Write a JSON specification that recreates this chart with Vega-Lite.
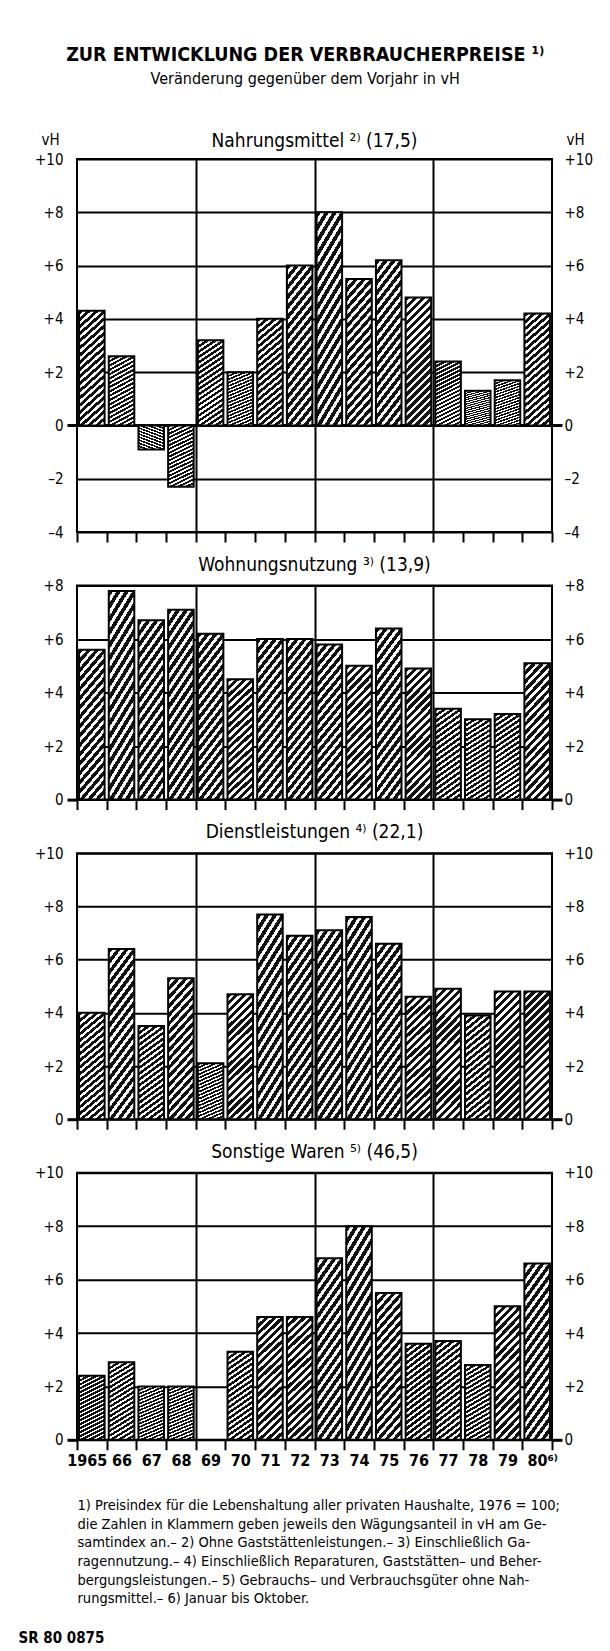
{
  "$schema": "https://vega.github.io/schema/vega-lite/v6.json",
  "padding": {"left": 17, "top": 45, "right": 4, "bottom": 0},
  "background": "white",
  "title": {
    "text": "ZUR ENTWICKLUNG DER VERBRAUCHERPREISE ¹⁾",
    "subtitle": "Veränderung gegenüber dem Vorjahr in vH",
    "anchor": "middle",
    "font": "Liberation Sans Narrow, DejaVu Sans Condensed, Arial Narrow, sans-serif",
    "fontSize": 19.5,
    "fontWeight": "bold",
    "color": "black",
    "subtitleFont": "Liberation Sans Narrow, DejaVu Sans Condensed, Arial Narrow, sans-serif",
    "subtitleFontSize": 16,
    "subtitleColor": "black",
    "subtitlePadding": 5.5,
    "offset": 42.5
  },
  "datasets": {
    "nahrung": [
      {"year": "1965", "value": 4.3}, {"year": "1966", "value": 2.6}, {"year": "1967", "value": -0.9}, {"year": "1968", "value": -2.3},
      {"year": "1969", "value": 3.2}, {"year": "1970", "value": 2.0}, {"year": "1971", "value": 4.0}, {"year": "1972", "value": 6.0},
      {"year": "1973", "value": 8.0}, {"year": "1974", "value": 5.5}, {"year": "1975", "value": 6.2}, {"year": "1976", "value": 4.8},
      {"year": "1977", "value": 2.4}, {"year": "1978", "value": 1.3}, {"year": "1979", "value": 1.7}, {"year": "1980", "value": 4.2}
    ],
    "wohnung": [
      {"year": "1965", "value": 5.6}, {"year": "1966", "value": 7.8}, {"year": "1967", "value": 6.7}, {"year": "1968", "value": 7.1},
      {"year": "1969", "value": 6.2}, {"year": "1970", "value": 4.5}, {"year": "1971", "value": 6.0}, {"year": "1972", "value": 6.0},
      {"year": "1973", "value": 5.8}, {"year": "1974", "value": 5.0}, {"year": "1975", "value": 6.4}, {"year": "1976", "value": 4.9},
      {"year": "1977", "value": 3.4}, {"year": "1978", "value": 3.0}, {"year": "1979", "value": 3.2}, {"year": "1980", "value": 5.1}
    ],
    "dienst": [
      {"year": "1965", "value": 4.0}, {"year": "1966", "value": 6.4}, {"year": "1967", "value": 3.5}, {"year": "1968", "value": 5.3},
      {"year": "1969", "value": 2.1}, {"year": "1970", "value": 4.7}, {"year": "1971", "value": 7.7}, {"year": "1972", "value": 6.9},
      {"year": "1973", "value": 7.1}, {"year": "1974", "value": 7.6}, {"year": "1975", "value": 6.6}, {"year": "1976", "value": 4.6},
      {"year": "1977", "value": 4.9}, {"year": "1978", "value": 3.9}, {"year": "1979", "value": 4.8}, {"year": "1980", "value": 4.8}
    ],
    "sonst": [
      {"year": "1965", "value": 2.4}, {"year": "1966", "value": 2.9}, {"year": "1967", "value": 2.0}, {"year": "1968", "value": 2.0},
      {"year": "1970", "value": 3.3}, {"year": "1971", "value": 4.6}, {"year": "1972", "value": 4.6},
      {"year": "1973", "value": 6.8}, {"year": "1974", "value": 8.0}, {"year": "1975", "value": 5.5}, {"year": "1976", "value": 3.6},
      {"year": "1977", "value": 3.7}, {"year": "1978", "value": 2.8}, {"year": "1979", "value": 5.0}, {"year": "1980", "value": 6.6}
    ]
  },
  "spacing": 10.6,
  "vconcat": [
    {
      "title": {"text": "Nahrungsmittel ²⁾ (17,5)", "offset": -18.6},
      "width": 475,
      "height": 373,
      "data": {"name": "nahrung"},
      "encoding": {
        "x": {"field": "year", "type": "ordinal",
          "scale": {"domain": ["1965","1966","1967","1968","1969","1970","1971","1972","1973","1974","1975","1976","1977","1978","1979","1980"], "paddingInner": 0, "paddingOuter": 0},
          "axis": {"tickBand": "extent", "labels": false, "title": null, "domain": false, "tickSize": 10, "tickWidth": 2, "tickColor": "black",
            "grid": true, "gridColor": "black", "gridWidth": 2,
            "gridOpacity": {"condition": {"test": "datum.value == '1968' || datum.value == '1972' || datum.value == '1976'", "value": 1}, "value": 0}}}
      },
      "layer": [
        {
          "mark": {"type": "bar", "width": {"band": 0.86}, "stroke": "black", "strokeWidth": 2,
            "fill": {"gradient": "linear", "x1": 0, "y1": 0, "x2": 0.24, "y2": 1.2, "stops": [
              {"offset": 0, "color": "#111"}, {"offset": 0.0275, "color": "#111"}, {"offset": 0.0275, "color": "#fff"}, {"offset": 0.05, "color": "#fff"},
              {"offset": 0.05, "color": "#111"}, {"offset": 0.0775, "color": "#111"}, {"offset": 0.0775, "color": "#fff"}, {"offset": 0.1, "color": "#fff"},
              {"offset": 0.1, "color": "#111"}, {"offset": 0.1275, "color": "#111"}, {"offset": 0.1275, "color": "#fff"}, {"offset": 0.15, "color": "#fff"},
              {"offset": 0.15, "color": "#111"}, {"offset": 0.1775, "color": "#111"}, {"offset": 0.1775, "color": "#fff"}, {"offset": 0.2, "color": "#fff"},
              {"offset": 0.2, "color": "#111"}, {"offset": 0.2275, "color": "#111"}, {"offset": 0.2275, "color": "#fff"}, {"offset": 0.25, "color": "#fff"},
              {"offset": 0.25, "color": "#111"}, {"offset": 0.2775, "color": "#111"}, {"offset": 0.2775, "color": "#fff"}, {"offset": 0.3, "color": "#fff"},
              {"offset": 0.3, "color": "#111"}, {"offset": 0.3275, "color": "#111"}, {"offset": 0.3275, "color": "#fff"}, {"offset": 0.35, "color": "#fff"},
              {"offset": 0.35, "color": "#111"}, {"offset": 0.3775, "color": "#111"}, {"offset": 0.3775, "color": "#fff"}, {"offset": 0.4, "color": "#fff"},
              {"offset": 0.4, "color": "#111"}, {"offset": 0.4275, "color": "#111"}, {"offset": 0.4275, "color": "#fff"}, {"offset": 0.45, "color": "#fff"},
              {"offset": 0.45, "color": "#111"}, {"offset": 0.4775, "color": "#111"}, {"offset": 0.4775, "color": "#fff"}, {"offset": 0.5, "color": "#fff"},
              {"offset": 0.5, "color": "#111"}, {"offset": 0.5275, "color": "#111"}, {"offset": 0.5275, "color": "#fff"}, {"offset": 0.55, "color": "#fff"},
              {"offset": 0.55, "color": "#111"}, {"offset": 0.5775, "color": "#111"}, {"offset": 0.5775, "color": "#fff"}, {"offset": 0.6, "color": "#fff"},
              {"offset": 0.6, "color": "#111"}, {"offset": 0.6275, "color": "#111"}, {"offset": 0.6275, "color": "#fff"}, {"offset": 0.65, "color": "#fff"},
              {"offset": 0.65, "color": "#111"}, {"offset": 0.6775, "color": "#111"}, {"offset": 0.6775, "color": "#fff"}, {"offset": 0.7, "color": "#fff"},
              {"offset": 0.7, "color": "#111"}, {"offset": 0.7275, "color": "#111"}, {"offset": 0.7275, "color": "#fff"}, {"offset": 0.75, "color": "#fff"},
              {"offset": 0.75, "color": "#111"}, {"offset": 0.7775, "color": "#111"}, {"offset": 0.7775, "color": "#fff"}, {"offset": 0.8, "color": "#fff"},
              {"offset": 0.8, "color": "#111"}, {"offset": 0.8275, "color": "#111"}, {"offset": 0.8275, "color": "#fff"}, {"offset": 0.85, "color": "#fff"},
              {"offset": 0.85, "color": "#111"}, {"offset": 0.8775, "color": "#111"}, {"offset": 0.8775, "color": "#fff"}, {"offset": 0.9, "color": "#fff"},
              {"offset": 0.9, "color": "#111"}, {"offset": 0.9275, "color": "#111"}, {"offset": 0.9275, "color": "#fff"}, {"offset": 0.95, "color": "#fff"},
              {"offset": 0.95, "color": "#111"}, {"offset": 0.9775, "color": "#111"}, {"offset": 0.9775, "color": "#fff"}, {"offset": 1, "color": "#fff"}
            ]}},
          "encoding": {
            "y": {"field": "value", "type": "quantitative", "scale": {"domain": [-4, 10], "nice": false},
              "axis": {"orient": "left", "values": [-4, -2, 0, 2, 4, 6, 8, 10], "grid": true, "gridColor": "black",
                "gridWidth": {"condition": {"test": "datum.value == 0", "value": 3}, "value": 2},
                "tickSize": 10, "tickWidth": 3, "tickColor": "black",
                "tickOpacity": {"condition": {"test": "datum.value == 0", "value": 1}, "value": 0},
                "labelPadding": 4, "labelFontSize": 15,
                "labelExpr": "datum.value > 0 ? '+' + datum.value : (datum.value < 0 ? '–' + (-datum.value) : '0')",
                "title": "vH", "titleAngle": 0, "titleX": -36, "titleY": -15, "titleAlign": "left", "titleBaseline": "alphabetic",
                "titleFontSize": 15, "titleFontWeight": "normal"}}
          }
        },
        {
          "mark": {"type": "bar", "width": {"band": 0.86}, "opacity": 0},
          "encoding": {
            "y": {"field": "value", "type": "quantitative",
              "axis": {"orient": "right", "values": [-4, -2, 0, 2, 4, 6, 8, 10], "grid": false,
                "tickSize": 10, "tickWidth": 3, "tickColor": "black",
                "tickOpacity": {"condition": {"test": "datum.value == 0", "value": 1}, "value": 0},
                "labelPadding": 2, "labelFontSize": 15,
                "labelExpr": "datum.value > 0 ? '+' + datum.value : (datum.value < 0 ? '–' + (-datum.value) : '0')",
                "title": "vH", "titleAngle": 0, "titleX": 14, "titleY": -15, "titleAlign": "left", "titleBaseline": "alphabetic",
                "titleFontSize": 15, "titleFontWeight": "normal"}}
          }
        }
      ],
      "resolve": {"axis": {"y": "independent"}}
    },
    {
      "title": {"text": "Wohnungsnutzung ³⁾ (13,9)"},
      "width": 475,
      "height": 214,
      "data": {"name": "wohnung"},
      "encoding": {
        "x": {"field": "year", "type": "ordinal",
          "scale": {"domain": ["1965","1966","1967","1968","1969","1970","1971","1972","1973","1974","1975","1976","1977","1978","1979","1980"], "paddingInner": 0, "paddingOuter": 0},
          "axis": {"tickBand": "extent", "labels": false, "title": null, "domain": false, "tickSize": 10, "tickWidth": 2, "tickColor": "black",
            "grid": true, "gridColor": "black", "gridWidth": 2,
            "gridOpacity": {"condition": {"test": "datum.value == '1968' || datum.value == '1972' || datum.value == '1976'", "value": 1}, "value": 0}}}
      },
      "layer": [
        {
          "mark": {"type": "bar", "width": {"band": 0.86}, "stroke": "black", "strokeWidth": 2,
            "fill": {"gradient": "linear", "x1": 0, "y1": 0, "x2": 0.24, "y2": 1.2, "stops": [
              {"offset": 0, "color": "#111"}, {"offset": 0.0275, "color": "#111"}, {"offset": 0.0275, "color": "#fff"}, {"offset": 0.05, "color": "#fff"},
              {"offset": 0.05, "color": "#111"}, {"offset": 0.0775, "color": "#111"}, {"offset": 0.0775, "color": "#fff"}, {"offset": 0.1, "color": "#fff"},
              {"offset": 0.1, "color": "#111"}, {"offset": 0.1275, "color": "#111"}, {"offset": 0.1275, "color": "#fff"}, {"offset": 0.15, "color": "#fff"},
              {"offset": 0.15, "color": "#111"}, {"offset": 0.1775, "color": "#111"}, {"offset": 0.1775, "color": "#fff"}, {"offset": 0.2, "color": "#fff"},
              {"offset": 0.2, "color": "#111"}, {"offset": 0.2275, "color": "#111"}, {"offset": 0.2275, "color": "#fff"}, {"offset": 0.25, "color": "#fff"},
              {"offset": 0.25, "color": "#111"}, {"offset": 0.2775, "color": "#111"}, {"offset": 0.2775, "color": "#fff"}, {"offset": 0.3, "color": "#fff"},
              {"offset": 0.3, "color": "#111"}, {"offset": 0.3275, "color": "#111"}, {"offset": 0.3275, "color": "#fff"}, {"offset": 0.35, "color": "#fff"},
              {"offset": 0.35, "color": "#111"}, {"offset": 0.3775, "color": "#111"}, {"offset": 0.3775, "color": "#fff"}, {"offset": 0.4, "color": "#fff"},
              {"offset": 0.4, "color": "#111"}, {"offset": 0.4275, "color": "#111"}, {"offset": 0.4275, "color": "#fff"}, {"offset": 0.45, "color": "#fff"},
              {"offset": 0.45, "color": "#111"}, {"offset": 0.4775, "color": "#111"}, {"offset": 0.4775, "color": "#fff"}, {"offset": 0.5, "color": "#fff"},
              {"offset": 0.5, "color": "#111"}, {"offset": 0.5275, "color": "#111"}, {"offset": 0.5275, "color": "#fff"}, {"offset": 0.55, "color": "#fff"},
              {"offset": 0.55, "color": "#111"}, {"offset": 0.5775, "color": "#111"}, {"offset": 0.5775, "color": "#fff"}, {"offset": 0.6, "color": "#fff"},
              {"offset": 0.6, "color": "#111"}, {"offset": 0.6275, "color": "#111"}, {"offset": 0.6275, "color": "#fff"}, {"offset": 0.65, "color": "#fff"},
              {"offset": 0.65, "color": "#111"}, {"offset": 0.6775, "color": "#111"}, {"offset": 0.6775, "color": "#fff"}, {"offset": 0.7, "color": "#fff"},
              {"offset": 0.7, "color": "#111"}, {"offset": 0.7275, "color": "#111"}, {"offset": 0.7275, "color": "#fff"}, {"offset": 0.75, "color": "#fff"},
              {"offset": 0.75, "color": "#111"}, {"offset": 0.7775, "color": "#111"}, {"offset": 0.7775, "color": "#fff"}, {"offset": 0.8, "color": "#fff"},
              {"offset": 0.8, "color": "#111"}, {"offset": 0.8275, "color": "#111"}, {"offset": 0.8275, "color": "#fff"}, {"offset": 0.85, "color": "#fff"},
              {"offset": 0.85, "color": "#111"}, {"offset": 0.8775, "color": "#111"}, {"offset": 0.8775, "color": "#fff"}, {"offset": 0.9, "color": "#fff"},
              {"offset": 0.9, "color": "#111"}, {"offset": 0.9275, "color": "#111"}, {"offset": 0.9275, "color": "#fff"}, {"offset": 0.95, "color": "#fff"},
              {"offset": 0.95, "color": "#111"}, {"offset": 0.9775, "color": "#111"}, {"offset": 0.9775, "color": "#fff"}, {"offset": 1, "color": "#fff"}
            ]}},
          "encoding": {
            "y": {"field": "value", "type": "quantitative", "scale": {"domain": [0, 8], "nice": false},
              "axis": {"orient": "left", "values": [0, 2, 4, 6, 8], "grid": true, "gridColor": "black", "gridWidth": 2,
                "tickSize": 10, "tickWidth": 3, "tickColor": "black",
                "tickOpacity": {"condition": {"test": "datum.value == 0", "value": 1}, "value": 0},
                "labelPadding": 4, "labelFontSize": 15,
                "labelExpr": "datum.value > 0 ? '+' + datum.value : (datum.value < 0 ? '–' + (-datum.value) : '0')",
                "title": null}}
          }
        },
        {
          "mark": {"type": "bar", "width": {"band": 0.86}, "opacity": 0},
          "encoding": {
            "y": {"field": "value", "type": "quantitative",
              "axis": {"orient": "right", "values": [0, 2, 4, 6, 8], "grid": false,
                "tickSize": 10, "tickWidth": 3, "tickColor": "black",
                "tickOpacity": {"condition": {"test": "datum.value == 0", "value": 1}, "value": 0},
                "labelPadding": 2, "labelFontSize": 15,
                "labelExpr": "datum.value > 0 ? '+' + datum.value : (datum.value < 0 ? '–' + (-datum.value) : '0')",
                "title": null}}
          }
        }
      ],
      "resolve": {"axis": {"y": "independent"}}
    },
    {
      "title": {"text": "Dienstleistungen ⁴⁾ (22,1)"},
      "width": 475,
      "height": 266,
      "data": {"name": "dienst"},
      "encoding": {
        "x": {"field": "year", "type": "ordinal",
          "scale": {"domain": ["1965","1966","1967","1968","1969","1970","1971","1972","1973","1974","1975","1976","1977","1978","1979","1980"], "paddingInner": 0, "paddingOuter": 0},
          "axis": {"tickBand": "extent", "labels": false, "title": null, "domain": false, "tickSize": 10, "tickWidth": 2, "tickColor": "black",
            "grid": true, "gridColor": "black", "gridWidth": 2,
            "gridOpacity": {"condition": {"test": "datum.value == '1968' || datum.value == '1972' || datum.value == '1976'", "value": 1}, "value": 0}}}
      },
      "layer": [
        {
          "mark": {"type": "bar", "width": {"band": 0.86}, "stroke": "black", "strokeWidth": 2,
            "fill": {"gradient": "linear", "x1": 0, "y1": 0, "x2": 0.24, "y2": 1.2, "stops": [
              {"offset": 0, "color": "#111"}, {"offset": 0.0275, "color": "#111"}, {"offset": 0.0275, "color": "#fff"}, {"offset": 0.05, "color": "#fff"},
              {"offset": 0.05, "color": "#111"}, {"offset": 0.0775, "color": "#111"}, {"offset": 0.0775, "color": "#fff"}, {"offset": 0.1, "color": "#fff"},
              {"offset": 0.1, "color": "#111"}, {"offset": 0.1275, "color": "#111"}, {"offset": 0.1275, "color": "#fff"}, {"offset": 0.15, "color": "#fff"},
              {"offset": 0.15, "color": "#111"}, {"offset": 0.1775, "color": "#111"}, {"offset": 0.1775, "color": "#fff"}, {"offset": 0.2, "color": "#fff"},
              {"offset": 0.2, "color": "#111"}, {"offset": 0.2275, "color": "#111"}, {"offset": 0.2275, "color": "#fff"}, {"offset": 0.25, "color": "#fff"},
              {"offset": 0.25, "color": "#111"}, {"offset": 0.2775, "color": "#111"}, {"offset": 0.2775, "color": "#fff"}, {"offset": 0.3, "color": "#fff"},
              {"offset": 0.3, "color": "#111"}, {"offset": 0.3275, "color": "#111"}, {"offset": 0.3275, "color": "#fff"}, {"offset": 0.35, "color": "#fff"},
              {"offset": 0.35, "color": "#111"}, {"offset": 0.3775, "color": "#111"}, {"offset": 0.3775, "color": "#fff"}, {"offset": 0.4, "color": "#fff"},
              {"offset": 0.4, "color": "#111"}, {"offset": 0.4275, "color": "#111"}, {"offset": 0.4275, "color": "#fff"}, {"offset": 0.45, "color": "#fff"},
              {"offset": 0.45, "color": "#111"}, {"offset": 0.4775, "color": "#111"}, {"offset": 0.4775, "color": "#fff"}, {"offset": 0.5, "color": "#fff"},
              {"offset": 0.5, "color": "#111"}, {"offset": 0.5275, "color": "#111"}, {"offset": 0.5275, "color": "#fff"}, {"offset": 0.55, "color": "#fff"},
              {"offset": 0.55, "color": "#111"}, {"offset": 0.5775, "color": "#111"}, {"offset": 0.5775, "color": "#fff"}, {"offset": 0.6, "color": "#fff"},
              {"offset": 0.6, "color": "#111"}, {"offset": 0.6275, "color": "#111"}, {"offset": 0.6275, "color": "#fff"}, {"offset": 0.65, "color": "#fff"},
              {"offset": 0.65, "color": "#111"}, {"offset": 0.6775, "color": "#111"}, {"offset": 0.6775, "color": "#fff"}, {"offset": 0.7, "color": "#fff"},
              {"offset": 0.7, "color": "#111"}, {"offset": 0.7275, "color": "#111"}, {"offset": 0.7275, "color": "#fff"}, {"offset": 0.75, "color": "#fff"},
              {"offset": 0.75, "color": "#111"}, {"offset": 0.7775, "color": "#111"}, {"offset": 0.7775, "color": "#fff"}, {"offset": 0.8, "color": "#fff"},
              {"offset": 0.8, "color": "#111"}, {"offset": 0.8275, "color": "#111"}, {"offset": 0.8275, "color": "#fff"}, {"offset": 0.85, "color": "#fff"},
              {"offset": 0.85, "color": "#111"}, {"offset": 0.8775, "color": "#111"}, {"offset": 0.8775, "color": "#fff"}, {"offset": 0.9, "color": "#fff"},
              {"offset": 0.9, "color": "#111"}, {"offset": 0.9275, "color": "#111"}, {"offset": 0.9275, "color": "#fff"}, {"offset": 0.95, "color": "#fff"},
              {"offset": 0.95, "color": "#111"}, {"offset": 0.9775, "color": "#111"}, {"offset": 0.9775, "color": "#fff"}, {"offset": 1, "color": "#fff"}
            ]}},
          "encoding": {
            "y": {"field": "value", "type": "quantitative", "scale": {"domain": [0, 10], "nice": false},
              "axis": {"orient": "left", "values": [0, 2, 4, 6, 8, 10], "grid": true, "gridColor": "black", "gridWidth": 2,
                "tickSize": 10, "tickWidth": 3, "tickColor": "black",
                "tickOpacity": {"condition": {"test": "datum.value == 0", "value": 1}, "value": 0},
                "labelPadding": 4, "labelFontSize": 15,
                "labelExpr": "datum.value > 0 ? '+' + datum.value : (datum.value < 0 ? '–' + (-datum.value) : '0')",
                "title": null}}
          }
        },
        {
          "mark": {"type": "bar", "width": {"band": 0.86}, "opacity": 0},
          "encoding": {
            "y": {"field": "value", "type": "quantitative",
              "axis": {"orient": "right", "values": [0, 2, 4, 6, 8, 10], "grid": false,
                "tickSize": 10, "tickWidth": 3, "tickColor": "black",
                "tickOpacity": {"condition": {"test": "datum.value == 0", "value": 1}, "value": 0},
                "labelPadding": 2, "labelFontSize": 15,
                "labelExpr": "datum.value > 0 ? '+' + datum.value : (datum.value < 0 ? '–' + (-datum.value) : '0')",
                "title": null}}
          }
        }
      ],
      "resolve": {"axis": {"y": "independent"}}
    },
    {
      "title": {"text": "Sonstige Waren ⁵⁾ (46,5)"},
      "width": 475,
      "height": 267,
      "data": {"name": "sonst"},
      "encoding": {
        "x": {"field": "year", "type": "ordinal",
          "scale": {"domain": ["1965","1966","1967","1968","1969","1970","1971","1972","1973","1974","1975","1976","1977","1978","1979","1980"], "paddingInner": 0, "paddingOuter": 0},
          "axis": {"tickBand": "extent", "labels": true, "labelAngle": 0, "labelOverlap": false, "labelFontSize": 16, "labelFontWeight": "bold", "labelPadding": 3,
            "labelOffset": {"condition": [{"test": "datum.value == '1965'", "value": -5}, {"test": "datum.value == '1980'", "value": 5}], "value": 0},
            "labelExpr": "datum.value == null ? '' : (datum.value == '1965' ? '1965' : (datum.value == '1980' ? '80⁶⁾' : substring(datum.value, 2)))",
            "domain": false, "tickSize": 10, "tickWidth": 2, "tickColor": "black",
            "grid": true, "gridColor": "black", "gridWidth": 2,
            "gridOpacity": {"condition": {"test": "datum.value == '1968' || datum.value == '1972' || datum.value == '1976'", "value": 1}, "value": 0},
            "title": [
              "1) Preisindex für die Lebenshaltung aller privaten Haushalte, 1976 = 100;",
              "die Zahlen in Klammern geben jeweils den Wägungsanteil in vH am Ge-",
              "samtindex an.– 2) Ohne Gaststättenleistungen.– 3) Einschließlich Ga-",
              "ragennutzung.– 4) Einschließlich Reparaturen, Gaststätten– und Beher-",
              "bergungsleistungen.– 5) Gebrauchs– und Verbrauchsgüter ohne Nah-",
              "rungsmittel.– 6) Januar bis Oktober."
            ],
            "titleAnchor": "start", "titleAlign": "left", "titleFontSize": 14.5, "titleFontWeight": "normal", "titleLineHeight": 18.6, "titlePadding": 30}}
      },
      "layer": [
        {
          "mark": {"type": "bar", "width": {"band": 0.86}, "stroke": "black", "strokeWidth": 2,
            "fill": {"gradient": "linear", "x1": 0, "y1": 0, "x2": 0.24, "y2": 1.2, "stops": [
              {"offset": 0, "color": "#111"}, {"offset": 0.0275, "color": "#111"}, {"offset": 0.0275, "color": "#fff"}, {"offset": 0.05, "color": "#fff"},
              {"offset": 0.05, "color": "#111"}, {"offset": 0.0775, "color": "#111"}, {"offset": 0.0775, "color": "#fff"}, {"offset": 0.1, "color": "#fff"},
              {"offset": 0.1, "color": "#111"}, {"offset": 0.1275, "color": "#111"}, {"offset": 0.1275, "color": "#fff"}, {"offset": 0.15, "color": "#fff"},
              {"offset": 0.15, "color": "#111"}, {"offset": 0.1775, "color": "#111"}, {"offset": 0.1775, "color": "#fff"}, {"offset": 0.2, "color": "#fff"},
              {"offset": 0.2, "color": "#111"}, {"offset": 0.2275, "color": "#111"}, {"offset": 0.2275, "color": "#fff"}, {"offset": 0.25, "color": "#fff"},
              {"offset": 0.25, "color": "#111"}, {"offset": 0.2775, "color": "#111"}, {"offset": 0.2775, "color": "#fff"}, {"offset": 0.3, "color": "#fff"},
              {"offset": 0.3, "color": "#111"}, {"offset": 0.3275, "color": "#111"}, {"offset": 0.3275, "color": "#fff"}, {"offset": 0.35, "color": "#fff"},
              {"offset": 0.35, "color": "#111"}, {"offset": 0.3775, "color": "#111"}, {"offset": 0.3775, "color": "#fff"}, {"offset": 0.4, "color": "#fff"},
              {"offset": 0.4, "color": "#111"}, {"offset": 0.4275, "color": "#111"}, {"offset": 0.4275, "color": "#fff"}, {"offset": 0.45, "color": "#fff"},
              {"offset": 0.45, "color": "#111"}, {"offset": 0.4775, "color": "#111"}, {"offset": 0.4775, "color": "#fff"}, {"offset": 0.5, "color": "#fff"},
              {"offset": 0.5, "color": "#111"}, {"offset": 0.5275, "color": "#111"}, {"offset": 0.5275, "color": "#fff"}, {"offset": 0.55, "color": "#fff"},
              {"offset": 0.55, "color": "#111"}, {"offset": 0.5775, "color": "#111"}, {"offset": 0.5775, "color": "#fff"}, {"offset": 0.6, "color": "#fff"},
              {"offset": 0.6, "color": "#111"}, {"offset": 0.6275, "color": "#111"}, {"offset": 0.6275, "color": "#fff"}, {"offset": 0.65, "color": "#fff"},
              {"offset": 0.65, "color": "#111"}, {"offset": 0.6775, "color": "#111"}, {"offset": 0.6775, "color": "#fff"}, {"offset": 0.7, "color": "#fff"},
              {"offset": 0.7, "color": "#111"}, {"offset": 0.7275, "color": "#111"}, {"offset": 0.7275, "color": "#fff"}, {"offset": 0.75, "color": "#fff"},
              {"offset": 0.75, "color": "#111"}, {"offset": 0.7775, "color": "#111"}, {"offset": 0.7775, "color": "#fff"}, {"offset": 0.8, "color": "#fff"},
              {"offset": 0.8, "color": "#111"}, {"offset": 0.8275, "color": "#111"}, {"offset": 0.8275, "color": "#fff"}, {"offset": 0.85, "color": "#fff"},
              {"offset": 0.85, "color": "#111"}, {"offset": 0.8775, "color": "#111"}, {"offset": 0.8775, "color": "#fff"}, {"offset": 0.9, "color": "#fff"},
              {"offset": 0.9, "color": "#111"}, {"offset": 0.9275, "color": "#111"}, {"offset": 0.9275, "color": "#fff"}, {"offset": 0.95, "color": "#fff"},
              {"offset": 0.95, "color": "#111"}, {"offset": 0.9775, "color": "#111"}, {"offset": 0.9775, "color": "#fff"}, {"offset": 1, "color": "#fff"}
            ]}},
          "encoding": {
            "y": {"field": "value", "type": "quantitative", "scale": {"domain": [0, 10], "nice": false},
              "axis": {"orient": "left", "values": [0, 2, 4, 6, 8, 10], "grid": true, "gridColor": "black", "gridWidth": 2,
                "tickSize": 10, "tickWidth": 3, "tickColor": "black",
                "tickOpacity": {"condition": {"test": "datum.value == 0", "value": 1}, "value": 0},
                "labelPadding": 4, "labelFontSize": 15,
                "labelExpr": "datum.value > 0 ? '+' + datum.value : (datum.value < 0 ? '–' + (-datum.value) : '0')",
                "title": "SR 80 0875", "titleAngle": 0, "titleX": -59, "titleY": 465, "titleAlign": "left", "titleBaseline": "middle",
                "titleFontSize": 15, "titleFontWeight": "bold"}}
          }
        },
        {
          "mark": {"type": "bar", "width": {"band": 0.86}, "opacity": 0},
          "encoding": {
            "y": {"field": "value", "type": "quantitative",
              "axis": {"orient": "right", "values": [0, 2, 4, 6, 8, 10], "grid": false,
                "tickSize": 10, "tickWidth": 3, "tickColor": "black",
                "tickOpacity": {"condition": {"test": "datum.value == 0", "value": 1}, "value": 0},
                "labelPadding": 2, "labelFontSize": 15,
                "labelExpr": "datum.value > 0 ? '+' + datum.value : (datum.value < 0 ? '–' + (-datum.value) : '0')",
                "title": null}}
          }
        }
      ],
      "resolve": {"axis": {"y": "independent"}}
    }
  ],
  "config": {
    "font": "Liberation Sans Narrow, DejaVu Sans Condensed, Arial Narrow, sans-serif",
    "view": {"stroke": "black", "strokeWidth": 2},
    "axis": {
      "labelFont": "Liberation Sans Narrow, DejaVu Sans Condensed, Arial Narrow, sans-serif",
      "titleFont": "Liberation Sans Narrow, DejaVu Sans Condensed, Arial Narrow, sans-serif",
      "labelColor": "black", "titleColor": "black", "domain": false
    },
    "title": {
      "font": "Liberation Sans Narrow, DejaVu Sans Condensed, Arial Narrow, sans-serif",
      "fontSize": 19, "fontWeight": "normal", "color": "black", "offset": 0, "anchor": "middle"
    }
  }
}
